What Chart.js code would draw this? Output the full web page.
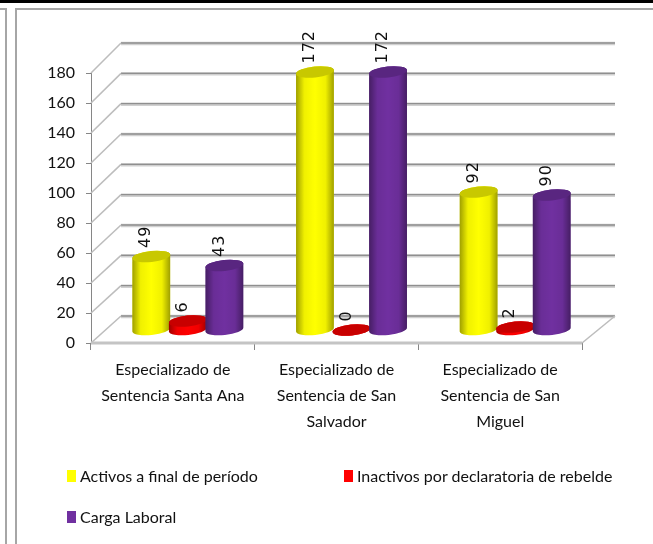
<!DOCTYPE html>
<html lang="es">
<head>
<meta charset="utf-8">
<title>Carga laboral</title>
<script src="https://cdn.jsdelivr.net/npm/chart.js@4"></script>
<style>
  html, body { margin: 0; padding: 0; background: #fff; }
  body { position: relative; width: 653px; height: 544px; overflow: hidden;
    font-family: Lato, sans-serif; color: #111; }
  canvas { position: absolute; left: 0; top: 0; }
  .frame { position: absolute; background: #a6a6a6; }
  .leg { position: absolute; font-size: 16px; line-height: 20px; white-space: nowrap; }
  .leg i { position: absolute; left: -13px; top: 4px; width: 9px; height: 12px; }
</style>
</head>
<body>
<div class="frame" style="left:0;top:0;width:653px;height:3px;background:#000"></div>
<div class="frame" style="left:0;top:8px;width:6px;height:2px"></div>
<div class="frame" style="left:5px;top:8px;width:2px;height:536px"></div>
<div class="frame" style="left:15px;top:8px;width:638px;height:2px"></div>
<div class="frame" style="left:15px;top:8px;width:2px;height:536px"></div>
<canvas id="chart" width="653" height="544"></canvas>
<div id="legend"></div>
<script>
'use strict';

// ---------- datos ----------
const categories = [
  ['Especializado de', 'Sentencia Santa Ana'],
  ['Especializado de', 'Sentencia de San', 'Salvador'],
  ['Especializado de', 'Sentencia de San', 'Miguel'],
];
const seriesNames = ['Activos a final de período', 'Inactivos por declaratoria de rebelde', 'Carga Laboral'];
const activos = [49, 172, 92];
const inactivos = [6, 0, 2];
const carga = [43, 172, 90];
const yTicks = [0, 20, 40, 60, 80, 100, 120, 140, 160, 180];

// ---------- estilo ----------
const bodyColors = ['#ffff00', '#ff0000', '#7030a0'];
const topColors = ['#c8c800', '#c80000', '#592680'];
const legendPos = [[80, 466], [357, 466], [80, 507]];
const GRID = '#8f8f8f', GRID_SOFT = '#d0d0d0';
const DX = 15, DY = -13;      // los cilindros van a media profundidad
const RX = 19, RY = 5.5, TILT = -0.1;

function wallDepth(v) { return 27 + 3 * v / 180; }

function softLine(c, x1, y1, x2, y2) {
  c.strokeStyle = GRID_SOFT; c.lineWidth = 3.5;
  c.beginPath(); c.moveTo(x1, y1 + 0.5); c.lineTo(x2, y2 + 0.5); c.stroke();
  c.strokeStyle = GRID; c.lineWidth = 1.4;
  c.beginPath(); c.moveTo(x1, y1); c.lineTo(x2, y2); c.stroke();
}

// paredes y piso en falso 3D, antes de las barras
const wallPlugin = {
  id: 'wall',
  beforeDatasetsDraw(chart) {
    const c = chart.ctx, { left, right } = chart.chartArea, y = chart.scales.y;
    c.save();
    yTicks.forEach((v) => {
      const py = y.getPixelForValue(v), d = wallDepth(v);
      softLine(c, left + 30, py - d, right + 33, py - d);
      c.strokeStyle = '#bdbdbd'; c.lineWidth = 1.6;
      c.beginPath(); c.moveTo(left, py); c.lineTo(left + 30, py - d); c.stroke();
    });
    const base = y.getPixelForValue(0);
    c.strokeStyle = '#bdbdbd'; c.lineWidth = 1.6;
    c.beginPath(); c.moveTo(right, base); c.lineTo(right + 33, base - wallDepth(0)); c.stroke();
    c.strokeStyle = '#c4c4c4'; c.lineWidth = 3;
    c.beginPath(); c.moveTo(left, base); c.lineTo(right, base); c.stroke();
    c.restore();
  }
};

function ellipse(c, x, y, color) {
  c.fillStyle = color;
  c.beginPath(); c.ellipse(x, y, RX, RY, TILT, 0, Math.PI * 2); c.fill();
}

// cilindros: se pintan de izquierda a derecha para que el morado tape al rojo
const cylinderPlugin = {
  id: 'cylinder',
  beforeDatasetDraw() { return false; },
  afterDatasetsDraw(chart) {
    const c = chart.ctx;
    chart.data.datasets.forEach((ds, i) => {
      const meta = chart.getDatasetMeta(i);
      c.save();
      c.translate(DX, DY);
      meta.controller.draw();
      meta.data.forEach((el) => {
        const g = c.createLinearGradient(el.x - RX, 0, el.x + RX, 0);
        g.addColorStop(0, 'rgba(0,0,0,.38)');
        g.addColorStop(0.22, 'rgba(0,0,0,.06)');
        g.addColorStop(0.5, 'rgba(0,0,0,0)');
        g.addColorStop(0.78, 'rgba(0,0,0,.06)');
        g.addColorStop(1, 'rgba(0,0,0,.38)');
        c.beginPath();
        c.ellipse(el.x, el.base, RX, RY, TILT, 0, Math.PI);
        c.ellipse(el.x, el.y, RX, RY, TILT, Math.PI, 0, false);
        c.closePath();
        c.fillStyle = bodyColors[i];
        c.fill();
        c.fillStyle = g;
        c.fill();
        ellipse(c, el.x, el.y, topColors[i]);
      });
      c.restore();
    });
  }
};

// etiquetas de valor giradas
const labelPlugin = {
  id: 'valueLabels',
  afterDatasetsDraw(chart) {
    const c = chart.ctx;
    c.save();
    c.font = '16px "DejaVu Sans"'; c.fillStyle = '#111';
    c.letterSpacing = '1px';
    c.textAlign = 'left'; c.textBaseline = 'middle';
    chart.data.datasets.forEach((ds, i) => {
      chart.getDatasetMeta(i).data.forEach((el, j) => {
        c.save();
        c.translate(el.x + DX - 5, el.y + DY - RY - 3);
        c.rotate(-Math.PI / 2);
        c.fillText(String(ds.data[j]), 0, 0);
        c.restore();
      });
    });
    c.restore();
  }
};

const chart = new Chart(document.getElementById('chart'), {
  type: 'bar',
  data: {
    labels: categories,
    datasets: [
      { label: seriesNames[0], data: activos, backgroundColor: bodyColors[0] },
      { label: seriesNames[1], data: inactivos, backgroundColor: bodyColors[1] },
      { label: seriesNames[2], data: carga, backgroundColor: bodyColors[2] },
    ]
  },
  options: {
    responsive: false, animation: false,
    layout: { padding: { top: 73, right: 71 } },
    datasets: { bar: { categoryPercentage: 0.67, barPercentage: 1.01, borderRadius: 6, borderSkipped: false } },
    plugins: { legend: { display: false }, tooltip: { enabled: false } },
    scales: {
      x: {
        afterFit: (s) => { s.height = 201; },
        grid: { drawOnChartArea: false, color: '#868686', tickLength: 7 },
        border: { color: '#868686' },
        ticks: { color: '#111', padding: 7, maxRotation: 0, autoSkip: false,
          font: { family: 'Lato', size: 16, lineHeight: 1.62 } }
      },
      y: {
        min: 0, max: 180,
        afterFit: (s) => { s.width = 91; },
        afterBuildTicks: (s) => { s.ticks = yTicks.map((v) => ({ value: v })); },
        grid: { drawOnChartArea: false, color: '#868686', tickLength: 5 },
        border: { color: '#868686' },
        ticks: { color: '#111', padding: 11,
          font: { family: 'Lato', size: 16 } }
      }
    }
  },
  plugins: [wallPlugin, cylinderPlugin, labelPlugin]
});

// leyenda en HTML, con dos columnas como en el original
const legend = document.getElementById('legend');
chart.data.datasets.forEach((ds, i) => {
  const item = document.createElement('div');
  item.className = 'leg';
  item.style.left = legendPos[i][0] + 'px';
  item.style.top = legendPos[i][1] + 'px';
  item.innerHTML = `<i style="background:${ds.backgroundColor}"></i>${ds.label}`;
  legend.appendChild(item);
});
</script>
</body>
</html>
